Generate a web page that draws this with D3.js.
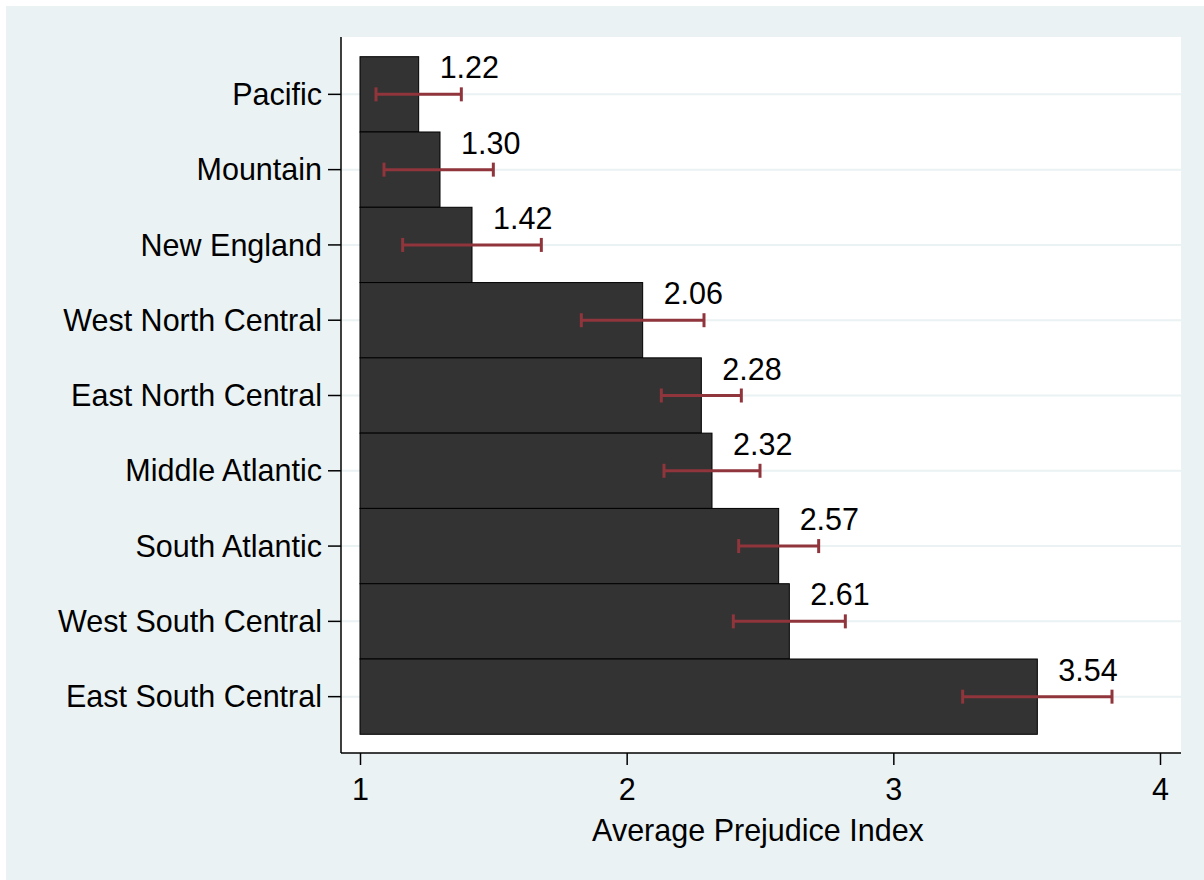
<!DOCTYPE html>
<html>
<head>
<meta charset="utf-8">
<script src="https://cdn.jsdelivr.net/npm/d3@7"></script>
<style>
  html, body { margin: 0; padding: 0; background: #ffffff; }
  svg { display: block; }
  text { font-family: "Liberation Sans", Arial, Helvetica, sans-serif; fill: #000; }
</style>
</head>
<body>
<svg id="chart" width="1204" height="880"></svg>
<script>
// Census divisions, ordered from lowest to highest average prejudice
const regions = [
  "Pacific", "Mountain", "New England", "West North Central",
  "East North Central", "Middle Atlantic", "South Atlantic",
  "West South Central", "East South Central"
];
const means = [1.22, 1.30, 1.42, 2.06, 2.28, 2.32, 2.57, 2.61, 3.54];
const ciLow  = [1.06, 1.09, 1.16, 1.83, 2.13, 2.14, 2.42, 2.40, 3.26];
const ciHigh = [1.38, 1.50, 1.68, 2.29, 2.43, 2.50, 2.72, 2.82, 3.82];
const xTicks = [1, 2, 3, 4];
const xTitle = "Average Prejudice Index";

const svg = d3.select("#chart");
const W = 1204, H = 880;
const FS = 30.5;

// graph region background
svg.append("rect").attr("x", 6).attr("y", 6).attr("width", W - 6).attr("height", H - 6)
  .attr("fill", "#EAF2F3");

// plot region
const plot = { left: 341, right: 1181, top: 37, bottom: 753 };
svg.append("rect")
  .attr("x", plot.left).attr("y", plot.top)
  .attr("width", plot.right - plot.left).attr("height", plot.bottom - plot.top)
  .attr("fill", "#ffffff");

const x = d3.scaleLinear().domain([1, 4]).range([360, 1160]);
const y = d3.scaleBand().domain(regions).range([56.7, 734.3]).padding(0);
const cy = r => y(r) + y.bandwidth() / 2;

const data = regions.map((r, i) => ({ region: r, mean: means[i], lo: ciLow[i], hi: ciHigh[i] }));

// gridlines at each category
svg.append("g").selectAll("line").data(regions).join("line")
  .attr("x1", plot.left).attr("x2", plot.right)
  .attr("y1", d => cy(d)).attr("y2", d => cy(d))
  .attr("stroke", "#EAF2F3").attr("stroke-width", 2);

// bars
svg.append("g").selectAll("rect").data(data).join("rect")
  .attr("x", x(1))
  .attr("y", d => y(d.region))
  .attr("width", d => x(d.mean) - x(1))
  .attr("height", y.bandwidth())
  .attr("fill", "#333333")
  .attr("stroke", "#000000")
  .attr("stroke-width", 1);

// confidence intervals
const ciColor = "#90353B";
const ci = svg.append("g").attr("stroke", ciColor).attr("stroke-width", 3);
ci.selectAll("line.span").data(data).join("line").attr("class", "span")
  .attr("x1", d => x(d.lo)).attr("x2", d => x(d.hi))
  .attr("y1", d => cy(d.region)).attr("y2", d => cy(d.region));
ci.selectAll("line.capl").data(data).join("line").attr("class", "capl")
  .attr("x1", d => x(d.lo)).attr("x2", d => x(d.lo))
  .attr("y1", d => cy(d.region) - 7).attr("y2", d => cy(d.region) + 7);
ci.selectAll("line.caph").data(data).join("line").attr("class", "caph")
  .attr("x1", d => x(d.hi)).attr("x2", d => x(d.hi))
  .attr("y1", d => cy(d.region) - 7).attr("y2", d => cy(d.region) + 7);

// value labels
svg.append("g").selectAll("text").data(data).join("text")
  .attr("x", d => x(d.mean) + 21)
  .attr("y", d => cy(d.region) - 16)
  .attr("font-size", FS)
  .text(d => d.mean.toFixed(2));

// y axis
const yAxis = d3.axisLeft(y).tickSize(13).tickPadding(6);
const gy = svg.append("g").attr("transform", `translate(${plot.left},0)`).call(yAxis);
gy.select(".domain").attr("d", `M0,${plot.top}V${plot.bottom}`).attr("stroke", "#000").attr("stroke-width", 1.5);
gy.selectAll(".tick line").attr("stroke", "#000").attr("stroke-width", 1.5);
gy.selectAll(".tick text").attr("font-size", FS).attr("font-family", "Liberation Sans, Arial, sans-serif")
  .attr("fill", "#000").attr("dy", "0.35em");

// x axis
const xAxis = d3.axisBottom(x).tickValues(xTicks).tickFormat(d3.format("d")).tickSize(12).tickPadding(13);
const gx = svg.append("g").attr("transform", `translate(0,${plot.bottom})`).call(xAxis);
gx.select(".domain").attr("d", `M${plot.left},0H${plot.right}`).attr("stroke", "#000").attr("stroke-width", 1.5);
gx.selectAll(".tick line").attr("stroke", "#000").attr("stroke-width", 1.5);
gx.selectAll(".tick text").attr("font-size", FS).attr("font-family", "Liberation Sans, Arial, sans-serif")
  .attr("fill", "#000");

// x axis title
svg.append("text")
  .attr("x", (x(1) + x(4)) / 2 - 2)
  .attr("y", 841)
  .attr("text-anchor", "middle")
  .attr("font-size", FS)
  .text(xTitle);
</script>
</body>
</html>
